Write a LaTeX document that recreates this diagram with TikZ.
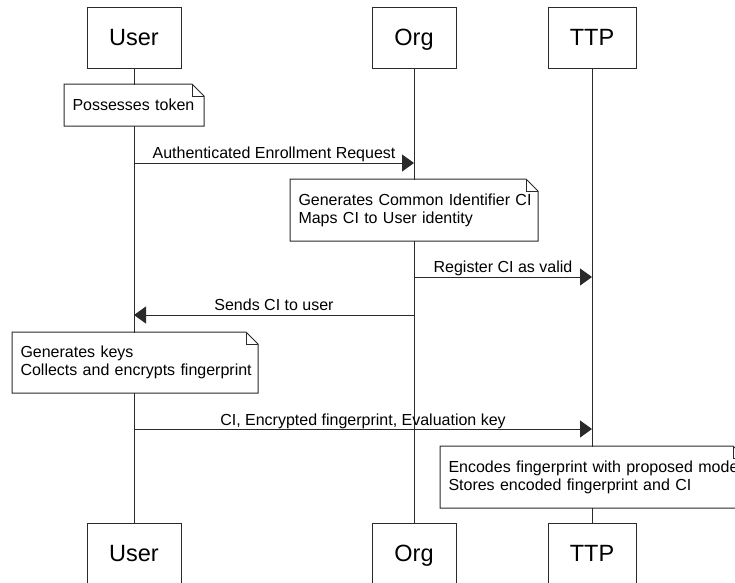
\documentclass[tikz,border=0pt]{standalone}
\usepackage{fontspec}
\setmainfont{Liberation Sans}
\usetikzlibrary{arrows.meta}

\definecolor{ink}{HTML}{2A2A2A}

\begin{document}
\begin{tikzpicture}[x=1pt, y=-1pt, line width=1pt,
  actor/.style={draw=ink, fill=white, minimum width=#1, minimum height=61pt,
    inner sep=0pt, text height=16.8pt, text depth=0pt,
    font=\fontsize{23.5}{28}\selectfont, text=black},
  note/.style={anchor=north west, fill=white, inner xsep=8pt, inner ysep=0pt,
    align=left, font=\fontsize{16}{18}\selectfont, text=black},
  lifeline/.style={draw=ink},
  msg/.style={draw=ink, -{Triangle[length=12pt, width=17pt]}},
  lbl/.style={midway, anchor=base, yshift=5pt, inner sep=0pt,
    font=\fontsize{16}{18}\selectfont, text=black}
]
\useasboundingbox (0,0) rectangle (735,582);
\clip (0,0) rectangle (735,582);

% participants, top and bottom
\node[actor=94pt] (uT) at (134,37.5) {User};
\node[actor=84pt] (oT) at (414,37.5) {Org};
\node[actor=88pt] (tT) at (592,37.5) {TTP};
\node[actor=94pt] (uB) at (134,553.5) {User};
\node[actor=84pt] (oB) at (414,553.5) {Org};
\node[actor=88pt] (tB) at (592,553.5) {TTP};

% lifelines
\draw[lifeline] (uT.south) -- (uB.north);
\draw[lifeline] (oT.south) -- (oB.north);
\draw[lifeline] (tT.south) -- (tB.north);

% notes (each line kept whole)
\node[note, text width=123pt, minimum height=41pt] (n1) at (64,84)
  {\mbox{Possesses token}};
\node[note, text width=231pt, minimum height=61pt] (n2) at (290,179)
  {\mbox{Generates Common Identifier CI}\\\mbox{Maps CI to User identity}};
\node[note, text width=229pt, minimum height=60pt] (n3) at (12,332)
  {\mbox{Generates keys}\\\mbox{Collects and encrypts fingerprint}};
\node[note, text width=288pt, minimum height=61pt] (n4) at (440,446)
  {\mbox{Encodes fingerprint with proposed model}\\\mbox{Stores encoded fingerprint and CI}};

% note outlines with folded corner
\foreach \n in {n1,n2,n3,n4} {
  \draw[ink] (\n.south west) -- (\n.north west) -- ([xshift=-12pt]\n.north east)
    -- ([yshift=-12pt]\n.north east) -- (\n.south east) -- cycle;
  \draw[ink] ([xshift=-12pt]\n.north east) -- ([xshift=-12pt,yshift=-12pt]\n.north east)
    -- ([yshift=-12pt]\n.north east);
}

% messages
\draw[msg] (uT.south |- 0,163) -- node[lbl] {Authenticated Enrollment Request} (oT.south |- 0,163);
\draw[msg] (oT.south |- 0,277) -- node[lbl] {Register CI as valid} (tT.south |- 0,277);
\draw[msg] (oT.south |- 0,315) -- node[lbl] {Sends CI to user} (uT.south |- 0,315);
\draw[msg] (uT.south |- 0,429) -- node[lbl, yshift=-1pt] {CI, Encrypted fingerprint, Evaluation key} (tT.south |- 0,429);
\end{tikzpicture}
\end{document}
